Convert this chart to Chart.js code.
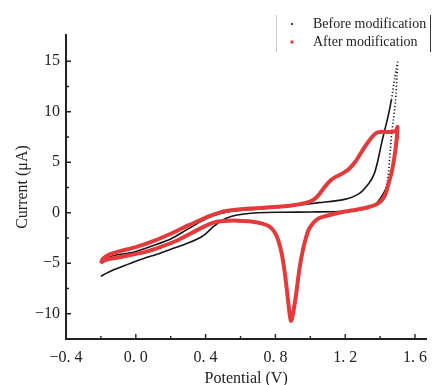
<!DOCTYPE html>
<html>
<head>
<meta charset="utf-8">
<title>CV curves</title>
<script src="https://cdn.jsdelivr.net/npm/chart.js@4.4.1/dist/chart.umd.min.js"></script>
<style>
  body { margin: 0; background: #fff; }
  #wrap { width: 436px; height: 385px; }
</style>
</head>
<body>
<div id="wrap"><canvas id="cv" width="436" height="385"></canvas></div>
<script>
// values, potential in V, current in uA
var seriesNames = ['Before modification', 'After modification'];

// before: forward scan up to 1.5 V then back
var beforeV = [-0.20, -0.17, -0.12, -0.02, 0.10, 0.20, 0.29, 0.38, 0.45, 0.53, 0.65, 0.80, 0.95, 1.05, 1.19, 1.28, 1.335, 1.365, 1.385, 1.41, 1.445, 1.465, 1.48, 1.492, 1.50,
  1.497, 1.488, 1.476, 1.466, 1.456, 1.446, 1.43, 1.40, 1.37, 1.32, 1.25, 1.17, 1.00, 0.85, 0.70, 0.62, 0.55, 0.50, 0.465, 0.43, 0.40, 0.37, 0.30, 0.22, 0.14, 0.05, 0.00, -0.06, -0.12, -0.17, -0.20];
var beforeI = [-5.0, -4.55, -4.2, -3.95, -3.25, -2.6, -1.7, -0.8, -0.25, 0.1, 0.3, 0.5, 0.8, 1.0, 1.3, 1.9, 2.9, 3.8, 5.0, 7.0, 9.5, 11.2, 12.9, 14.2, 14.9,
  13.5, 11.0, 9.2, 7.8, 5.6, 3.6, 2.3, 1.4, 0.8, 0.4, 0.2, 0.12, 0.08, 0.05, 0.0, -0.12, -0.35, -0.7, -1.1, -1.6, -2.1, -2.45, -3.0, -3.5, -4.0, -4.5, -4.8, -5.2, -5.6, -6.0, -6.3];

var afterV = [-0.20, -0.19, -0.17, -0.13, -0.08, -0.01, 0.10, 0.21, 0.30, 0.36, 0.41, 0.46, 0.50, 0.56, 0.65, 0.75, 0.85, 0.92, 0.98, 1.02, 1.05, 1.08, 1.11, 1.14, 1.18, 1.22, 1.26, 1.30, 1.34, 1.37, 1.40, 1.45, 1.49, 1.50,
  1.497, 1.49, 1.48, 1.466, 1.45, 1.432, 1.41, 1.38, 1.33, 1.27, 1.20, 1.14, 1.09, 1.05, 1.02, 0.99, 0.97, 0.955, 0.94, 0.928, 0.917, 0.905, 0.895, 0.889, 0.882, 0.872, 0.862, 0.851, 0.837, 0.818, 0.795, 0.765, 0.72, 0.65, 0.58, 0.50, 0.45, 0.40, 0.32, 0.23, 0.14, 0.05, -0.05, -0.11, -0.16, -0.19, -0.20];
var afterI = [-5.0, -4.6, -4.3, -4.0, -3.75, -3.45, -2.8, -2.0, -1.25, -0.8, -0.4, -0.1, 0.12, 0.28, 0.42, 0.52, 0.64, 0.8, 1.0, 1.3, 1.8, 2.5, 3.1, 3.5, 3.85, 4.3, 5.1, 6.2, 7.2, 7.8, 8.0, 8.0, 8.1, 8.5,
  7.6, 6.5, 5.3, 4.0, 3.0, 1.9, 1.25, 0.85, 0.55, 0.33, 0.12, -0.1, -0.32, -0.55, -0.95, -1.7, -2.8, -3.9, -5.3, -6.8, -8.3, -9.6, -10.5, -10.7, -10.1, -8.6, -7.1, -5.6, -4.1, -2.8, -1.9, -1.35, -1.05, -0.85, -0.78, -0.82, -0.95, -1.3, -2.0, -2.8, -3.4, -3.9, -4.25, -4.45, -4.6, -4.8, -5.0];

var xTicks = [-0.4, 0.0, 0.4, 0.8, 1.2, 1.6];
var xTickLabels = ['\u22120. 4', '0. 0', '0. 4', '0. 8', '1. 2', '1. 6'];
var xMinor = [-0.2, 0.2, 0.6, 1.0, 1.4];
var yTicks = [-10, -5, 0, 5, 10, 15];
var yTickLabels = ['\u221210', '\u22125', '0', '5', '10', '15'];
var yMinor = [-7.5, -2.5, 2.5, 7.5, 12.5];

function toPoints(xs, ys) {
  var pts = [];
  for (var i = 0; i < xs.length; i++) pts.push({x: xs[i], y: ys[i]});
  return pts;
}

var topIdx = beforeI.indexOf(Math.max.apply(null, beforeI));
var serif = "'Liberation Serif', 'Times New Roman', serif";

// inward tick marks + the little legend box at top right
var extras = {
  id: 'extras',
  afterDraw: function(chart) {
    var ctx = chart.ctx, a = chart.chartArea;
    var sx = chart.scales.x, sy = chart.scales.y;
    ctx.save();
    ctx.strokeStyle = '#222';
    ctx.lineWidth = 1.4;
    ctx.beginPath();
    xTicks.forEach(function(v) { var p = sx.getPixelForValue(v); ctx.moveTo(p, a.bottom); ctx.lineTo(p, a.bottom - 5); });
    xMinor.forEach(function(v) { var p = sx.getPixelForValue(v); ctx.moveTo(p, a.bottom); ctx.lineTo(p, a.bottom - 3); });
    yTicks.forEach(function(v) { var p = sy.getPixelForValue(v); ctx.moveTo(a.left, p); ctx.lineTo(a.left + 5, p); });
    yMinor.forEach(function(v) { var p = sy.getPixelForValue(v); ctx.moveTo(a.left, p); ctx.lineTo(a.left + 3, p); });
    ctx.stroke();

    // legend
    ctx.lineWidth = 1;
    ctx.strokeStyle = '#c8c8c8';
    ctx.beginPath(); ctx.moveTo(276.5, 15); ctx.lineTo(276.5, 52); ctx.stroke();
    ctx.strokeStyle = '#333';
    ctx.beginPath(); ctx.moveTo(430.5, 15); ctx.lineTo(430.5, 52); ctx.stroke();
    var rows = [24, 42];
    ctx.font = '14px ' + serif;
    ctx.textBaseline = 'middle';
    ctx.textAlign = 'left';
    chart.data.datasets.forEach(function(ds, i) {
      ctx.fillStyle = ds.borderColor;
      if (i === 0) { ctx.beginPath(); ctx.arc(292, rows[i], 1.1, 0, Math.PI * 2); ctx.fill(); }
      else ctx.fillRect(290.5, rows[i] - 1.5, 3, 3);
      ctx.fillStyle = '#1e1e1e';
      ctx.fillText(ds.label, 313, rows[i]);
    });
    ctx.restore();
  }
};

new Chart(document.getElementById('cv'), {
  type: 'scatter',
  data: {
    datasets: [{
      label: seriesNames[0],
      data: toPoints(beforeV, beforeI),
      showLine: true,
      borderColor: '#141414',
      backgroundColor: '#141414',
      borderWidth: 1.6,
      pointRadius: 0,
      tension: 0.25,
      order: 1,
      segment: {
        borderDash: function(c) {
          var i0 = c.p0DataIndex;
          if (i0 >= topIdx && i0 < topIdx + 7) return [1.2, 2.2];
          if (i0 < topIdx && c.p0.parsed.y > 11) return [1.2, 2.2];
          return undefined;
        }
      }
    }, {
      label: seriesNames[1],
      data: toPoints(afterV, afterI),
      showLine: true,
      borderColor: '#e33a3c',
      backgroundColor: '#e33a3c',
      borderWidth: 4,
      pointRadius: 0,
      tension: 0.25,
      order: 0
    }]
  },
  options: {
    responsive: false,
    devicePixelRatio: 1,
    animation: false,
    layout: { padding: { top: 35, right: 0, left: 0, bottom: 0 } },
    plugins: { legend: { display: false }, tooltip: { enabled: false } },
    scales: {
      x: {
        type: 'linear',
        min: -0.4,
        max: 1.665,
        afterBuildTicks: function(s) { s.ticks = xTicks.map(function(v) { return {value: v}; }); },
        afterFit: function(s) { s.height = 46; },
        grid: { display: false, drawTicks: false },
        border: { display: true, color: '#222', width: 2 },
        ticks: {
          padding: 9,
          color: '#222',
          font: { family: serif, size: 16 },
          maxRotation: 0,
          callback: function(v, i) { return xTickLabels[i]; }
        },
        title: {
          display: true,
          text: 'Potential (V)',
          color: '#222',
          font: { family: serif, size: 16, lineHeight: 1 },
          padding: { top: 0, bottom: -2 }
        }
      },
      y: {
        type: 'linear',
        min: -12.5,
        max: 17.6,
        afterBuildTicks: function(s) { s.ticks = yTicks.map(function(v) { return {value: v}; }); },
        afterFit: function(s) { s.width = 66; },
        grid: { display: false, drawTicks: false },
        border: { display: true, color: '#222', width: 2 },
        ticks: {
          padding: 6,
          color: '#222',
          font: { family: serif, size: 16 },
          callback: function(v, i) { return yTickLabels[i]; }
        },
        title: {
          display: true,
          text: 'Current (\u03bcA)',
          color: '#222',
          font: { family: serif, size: 16, lineHeight: 1 },
          padding: { top: 15, bottom: 0 }
        }
      }
    }
  },
  plugins: [extras]
});
</script>
</body>
</html>
